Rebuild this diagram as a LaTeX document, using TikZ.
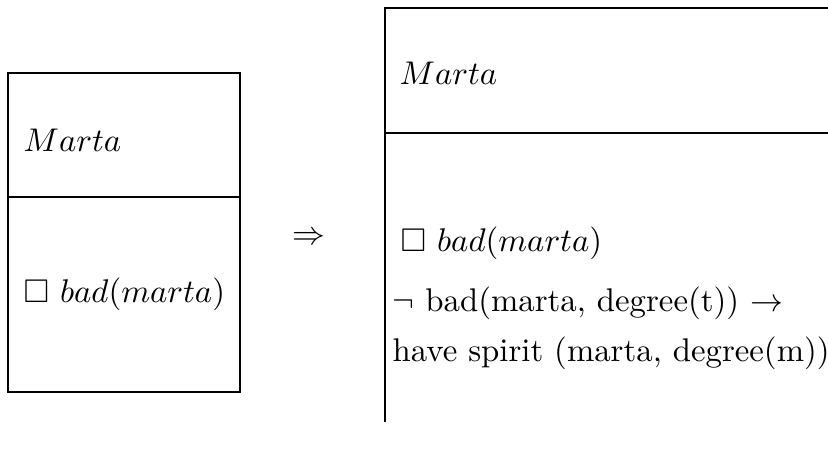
\documentclass[tikz,border=0pt]{standalone}
\usepackage{amssymb}
\usetikzlibrary{positioning}
\tikzset{
  frame/.style={draw, line width=0.4pt},
  entry/.style={anchor=base west, inner sep=0pt},
  implies/.style={inner sep=0pt}
}
\begin{document}
\begin{tikzpicture}
        \useasboundingbox (0,0) rectangle (8.871,4.821);
        % left box
        \draw[frame] (0.086,0.621) rectangle (2.571,4.039);
        \draw[frame] (0.086,2.711) -- (2.571,2.711);
        \node[entry] (lname) at (0.246,3.193) {$Marta$};
        \node[entry] (lbad) at (0.246,1.575) {$\Box\ bad(marta)$};
        % arrow between boxes
        \node[implies] (imp) at (3.311,2.271) {$\Rightarrow$};
        % right box, open on two sides
        \draw[frame] (8.871,4.736) -- (4.125,4.736) -- (4.125,0.300);
        \draw[frame] (4.125,3.396) -- (8.871,3.396);
        \node[entry] (rname) at (4.275,3.921) {$Marta$};
        \node[entry] (rbad) at (4.286,2.122) {$\Box\ bad(marta)$};
        \node[entry] (rneg) at (4.200,1.480) {$\neg$ bad(marta, degree(t)) $\rightarrow$};
        \node[entry] (rspirit) at (4.200,0.953) {have spirit (marta, degree(m))};
      \end{tikzpicture}
\end{document}
